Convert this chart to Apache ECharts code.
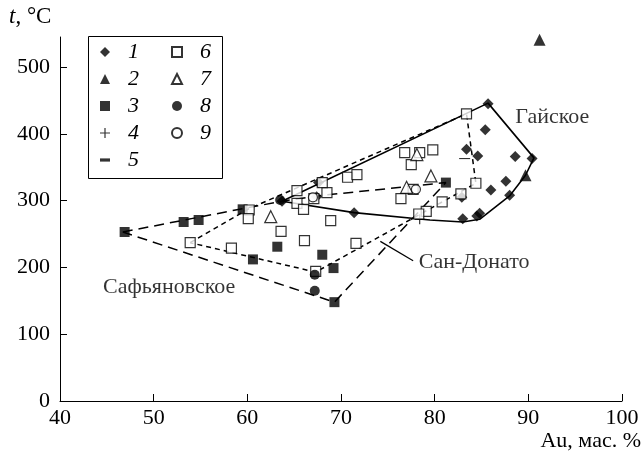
<!DOCTYPE html>
<html><head><meta charset="utf-8">
<script src="https://cdn.jsdelivr.net/npm/echarts@6/dist/echarts.min.js"></script>
<style>html,body{margin:0;padding:0;background:#fff}#c{width:643px;height:456px}</style>
</head><body><div id="c"></div>
<script>
// ---- data (Au, wt.% ; t, °C) ----
const s1 = [[63.7,299],[67.6,327],[67.4,306],[71.4,282],[85.7,445],[85.4,406],[83.4,377],[84.6,367],[88.6,366],[90.4,363],[87.6,329],[86,316],[88,308],[82.9,305],[84.8,281],[84.5,277],[83,273]];
const s2 = [[89.7,338],[91.2,541]];
const s3 = [[46.9,253],[53.2,268],[54.8,271],[59.5,287],[63.2,231],[60.6,212],[68,219],[69.2,199],[69.3,148],[81.2,327]];
const s4 = [[78.4,272]];
const s5 = [[83.2,363]];
const s6 = [[53.9,237],[58.3,229],[60.2,286],[60.1,273],[63.6,254],[65.3,315],[65.3,296],[66,287],[66.1,240],[67.1,303],[68.5,312],[68.0,327],[68.9,270],[67.3,194],[70.7,335],[71.7,339],[71.6,236],[76.8,372],[78.4,372],[79.8,376],[77.5,354],[77.7,317],[76.4,303],[80.8,298],[79.1,284],[78.3,280],[82.8,310],[84.4,326],[83.4,430]];
const s7 = [[62.5,276],[79.6,337],[78.1,369],[77,320]];
const s8 = [[63.5,301],[67.2,189],[67.2,165]];
const s9 = [[78,317],[67.0,305]];
// field outlines
const gaiskoe = [[63.7,299],[85.7,446],[90.6,364],[89.7,338],[88,307],[84.8,272],[83,268],[79.5,271],[71.4,282],[63.7,299]];
const safyanovskoe = [[46.7,253],[59.5,288],[63.7,299],[67.4,307],[81.2,327],[69.3,148],[46.7,253]];
const sanDonato = [[53.9,237],[60.2,288],[83.4,430],[84.4,326],[67.3,193],[53.9,237]];
const leader = [[74.2,239],[77.7,210]];
const fieldLabels = [
  {name:'Гайское', value:[88.6,425]},
  {name:'Сан-Донато', value:[78.3,208]},
  {name:'Сафьяновское', value:[44.6,170]}
];
const xTicks = [40,50,60,70,80,90,100];
const yTicks = [0,100,200,300,400,500];
const col1 = ['1','2','3','4','5'];
const col2 = ['6','7','8','9'];

const FONT = 'Liberation Serif';
const black = '#000';
const chart = echarts.init(document.getElementById('c'));
const sc = (name, data, symbol, size, hollow) => ({
  name, type:'scatter', data, symbol, symbolSize:size, z:5,
  symbolKeepAspect:true,
  itemStyle: hollow ? {color:'#fff', borderColor:black, borderWidth:1.2} : {color:black},
  emphasis:{disabled:true}
});
const ln = (data, type, w) => ({
  type:'line', data, symbol:'none', silent:true, z:3,
  lineStyle:{color:black, width:w, type}, emphasis:{disabled:true}
});
const PLUS = 'path://M4.4,0H5.6V4.4H10V5.6H5.6V10H4.4V5.6H0V4.4H4.4Z';
const DASH = 'path://M0,0H10V3.2H0Z';
const legendCommon = {
  orient:'vertical', top:41, padding:0, itemWidth:10, itemHeight:10, itemGap:5,
  selectedMode:false, symbolKeepAspect:true,
  textStyle:{fontFamily:FONT, fontStyle:'italic', fontSize:22, color:black, padding:[0,0,0,13]}
};
chart.setOption({
  animation:false,
  grid:{left:60, right:21, top:37, bottom:55},
  xAxis:{type:'value', min:40, max:100, interval:10,
    axisLine:{lineStyle:{color:black,width:1}},
    axisTick:{inside:true, length:7, lineStyle:{color:black}, customValues:xTicks},
    axisLabel:{fontFamily:FONT, fontSize:22, color:black, margin:6, customValues:xTicks},
    splitLine:{show:false}},
  yAxis:{type:'value', min:0, max:545, interval:100,
    axisLine:{show:true, lineStyle:{color:black,width:1}},
    axisTick:{show:true, inside:true, length:7, lineStyle:{color:black}, customValues:yTicks},
    axisLabel:{fontFamily:FONT, fontSize:22, color:black, margin:10, customValues:yTicks},
    splitLine:{show:false}},
  legend:[
    Object.assign({left:100, data:col1.map(n=> n==='5'?{name:n, icon:DASH}:{name:n})}, legendCommon),
    Object.assign({left:171, data:col2.map(n=>({name:n}))}, legendCommon)
  ],
  graphic:[
    {type:'rect', left:86, top:34, shape:{width:134, height:142}, style:{fill:'none', stroke:black, lineWidth:1}, z:10},
    {type:'text', left:9, top:5, style:{text:'{i|t}, °C', rich:{i:{fontStyle:'italic', fontFamily:FONT, fontSize:23}}, fontFamily:FONT, fontSize:23, fill:black}},
    {type:'text', right:2, top:430, style:{text:'Au, мас. %', fontFamily:FONT, fontSize:22, fill:black}}
  ],
  series:[
    ln(gaiskoe,'solid',1.6),
    ln(safyanovskoe,[10,6],1.5),
    ln(sanDonato,[5,4],1.5),
    ln(leader,'solid',1.2),
    {type:'scatter', data:fieldLabels, symbolSize:0, silent:true, z:6,
      label:{show:true, formatter:'{b}', position:'inside', align:'left', verticalAlign:'middle',
        fontFamily:FONT, fontSize:22, color:black}},
    sc('1', s1, 'diamond', 11, false),
    sc('2', s2, 'triangle', 12, false),
    sc('3', s3, 'rect', 10, false),
    sc('4', s4, PLUS, 10, false),
    sc('5', s5, DASH, [11,3.4], false),
    sc('6', s6, 'rect', 10, true),
    sc('7', s7, 'triangle', 12, true),
    sc('8', s8, 'circle', 10, false),
    sc('9', s9, 'circle', 9, true)
  ]
});
</script></body></html>
